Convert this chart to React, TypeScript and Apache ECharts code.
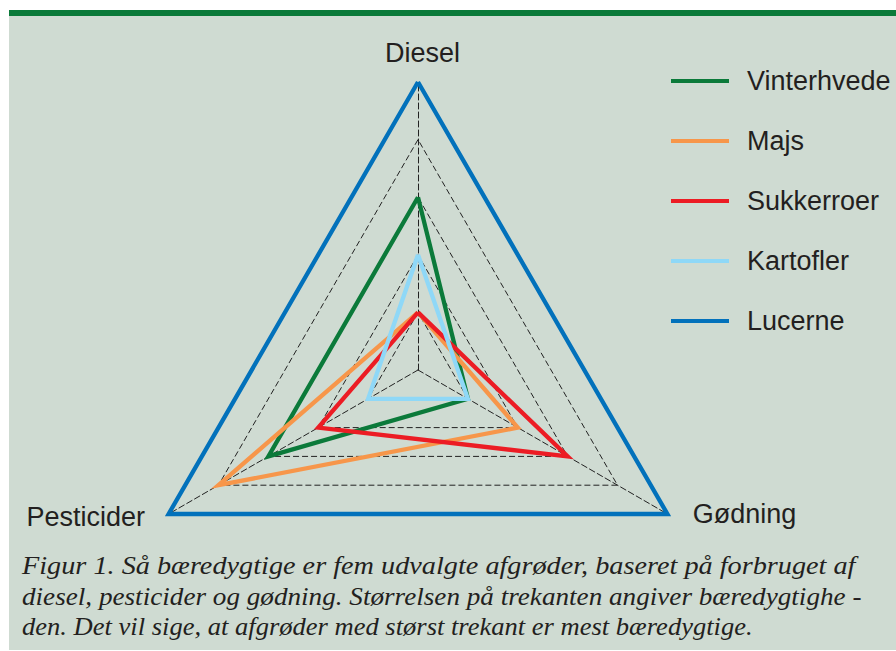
import React, { useEffect, useRef } from "react";
import * as echarts from "echarts";

const indicators = ["Diesel", "Pesticider", "Gødning"];
const indicatorMax = 5;

const seriesNames = ["Vinterhvede", "Majs", "Sukkerroer", "Kartofler", "Lucerne"];
const vinterhvede = [3, 3, 1];
const majs = [1, 4, 2];
const sukkerroer = [1, 2, 3];
const kartofler = [2, 1, 1];
const lucerne = [5, 5, 5];
const seriesValues = [vinterhvede, majs, sukkerroer, kartofler, lucerne];
const seriesColors = ["#0b7a3a", "#f7964a", "#ec1c24", "#8fd8f7", "#0271bb"];

const captionLines = [
  "Figur 1. Så bæredygtige er fem udvalgte afgrøder, baseret på forbruget af",
  "diesel, pesticider og gødning. Størrelsen på trekanten angiver bæredygtighe -",
  "den. Det vil sige, at afgrøder med størst trekant er mest bæredygtige.",
];

export default function App() {
  const ref = useRef<HTMLDivElement>(null);
  useEffect(() => {
    document.body.style.margin = "0";
    const chart = echarts.init(ref.current!, null, { renderer: "svg" });
    const sans = "'Liberation Sans', Arial, Helvetica, sans-serif";
    const serif = "'Liberation Serif', 'Times New Roman', serif";
    const textColor = "#231f20";
    const dash = { color: "#222222", width: 1, type: [6, 3] as any };
    const captionY = [574.5, 605, 635.5];
    const captionScale = [1.087, 1.045, 1.021];
    chart.setOption({
      animation: false,
      legend: {
        orient: "vertical",
        left: 671,
        top: 66,
        padding: 0,
        icon: "rect",
        itemWidth: 58,
        itemHeight: 4,
        itemGap: 30,
        data: seriesNames,
        textStyle: {
          fontFamily: sans,
          fontSize: 27,
          color: textColor,
          lineHeight: 30,
          padding: [0, 0, 0, 13],
        },
      },
      radar: {
        center: [418, 370],
        radius: 288,
        startAngle: 90,
        shape: "polygon",
        splitNumber: 5,
        indicator: indicators.map((name) => ({ name, min: 0, max: indicatorMax })),
        axisName: { show: false },
        axisLine: { lineStyle: dash },
        splitLine: { lineStyle: dash },
        splitArea: { show: false },
        axisTick: { show: false },
        axisLabel: { show: false },
      },
      series: seriesNames.map((name, i) => ({
        type: "radar",
        name,
        symbol: "none",
        data: [{ value: seriesValues[i], name }],
        lineStyle: { color: seriesColors[i], width: 4.3, join: "miter" },
        itemStyle: { color: seriesColors[i] },
        z: 2 + i,
      })),
      graphic: [
        {
          type: "text",
          x: 422.5,
          y: 52.8,
          z: 100,
          style: { text: indicators[0], fontFamily: sans, fontSize: 27, fill: textColor, align: "center", verticalAlign: "middle" },
        },
        {
          type: "text",
          x: 145,
          y: 517.2,
          z: 100,
          style: { text: indicators[1], fontFamily: sans, fontSize: 27, fill: textColor, align: "right", verticalAlign: "middle" },
        },
        {
          type: "text",
          x: 692.7,
          y: 513.8,
          z: 100,
          style: { text: indicators[2], fontFamily: sans, fontSize: 27, fill: textColor, align: "left", verticalAlign: "middle" },
        },
        ...captionLines.map((t, i) => ({
          type: "text",
          x: 22,
          y: captionY[i] - 8.9,
          scaleX: captionScale[i],
          z: 100,
          style: {
            text: t,
            fontFamily: serif,
            fontStyle: "italic",
            fontSize: 26,
            fill: textColor,
            align: "left",
            verticalAlign: "middle",
          },
        })),
      ],
    });
    return () => chart.dispose();
  }, []);
  return (
    <div style={{ position: "relative", width: 896, height: 651, background: "#ffffff" }}>
      <div
        style={{
          position: "absolute",
          left: 9,
          top: 10,
          width: 887,
          height: 634,
          background: "#cfdbd2",
          borderTop: "6px solid #0b7a3a",
        }}
      />
      <div ref={ref} style={{ position: "absolute", left: 0, top: 0, width: 896, height: 651 }} />
    </div>
  );
}
